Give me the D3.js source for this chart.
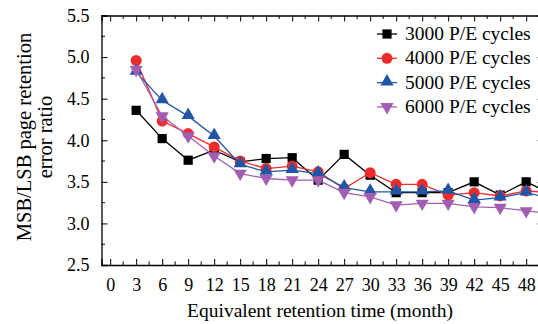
<!DOCTYPE html>
<html>
<head>
<meta charset="utf-8">
<script src="https://cdn.jsdelivr.net/npm/d3@7"></script>
<style>
  body { margin: 0; background: #fff; }
  svg { display: block; font-family: "Liberation Serif", "Times New Roman", serif; }
</style>
</head>
<body>
<svg id="chart" width="538" height="324"></svg>
<script>
// months of retention; the last point sits just past the visible edge
var months = [3, 6, 9, 12, 15, 18, 21, 24, 27, 30, 33, 36, 39, 42, 45, 48, 51];

var pe3000 = [4.36, 4.02, 3.76, 3.88, 3.74, 3.78, 3.79, 3.52, 3.83, 3.58, 3.37, 3.37, 3.37, 3.50, 3.34, 3.50, 3.35];
var pe4000 = [4.96, 4.23, 4.08, 3.92, 3.75, 3.66, 3.69, 3.62, 3.42, 3.61, 3.47, 3.47, 3.34, 3.37, 3.33, 3.39, 3.37];
var pe5000 = [4.82, 4.48, 4.29, 4.05, 3.71, 3.62, 3.64, 3.60, 3.43, 3.38, 3.38, 3.38, 3.39, 3.28, 3.31, 3.37, 3.30];
var pe6000 = [4.85, 4.29, 4.05, 3.81, 3.60, 3.54, 3.52, 3.52, 3.37, 3.32, 3.22, 3.24, 3.24, 3.20, 3.19, 3.15, 3.12];

var seriesNames = ["3000 P/E cycles", "4000 P/E cycles", "5000 P/E cycles", "6000 P/E cycles"];
var seriesColors = ["#000000", "#ee2b2b", "#2156a6", "#a25fb1"];
var seriesShapes = ["square", "circle", "triangle", "down"];

var xTicks = d3.range(0, 49, 3);
var yTicks = [2.5, 3.0, 3.5, 4.0, 4.5, 5.0, 5.5];

var svg = d3.select("#chart");

var mLeft = 101.5, mTop = 15.5, mBottom = 265, mRight = 543.5;

var x = d3.scaleLinear().domain([-1, 50]).range([mLeft, mRight]);
var y = d3.scaleLinear().domain([2.5, 5.5]).range([mBottom, mTop]);

// minor ticks
var xMinor = d3.range(1.5, 50, 3);
var yMinor = d3.range(2.75, 5.5, 0.5);

// bottom axis with inward ticks
var bottomAxis = svg.append("g").attr("transform", "translate(0," + mBottom + ")");
bottomAxis.call(d3.axisBottom(x).tickValues(xTicks).tickSize(-6).tickPadding(13).tickFormat(d3.format("d")));
bottomAxis.append("g").selectAll("line").data(xMinor).enter().append("line")
  .attr("x1", function(d){ return x(d); }).attr("x2", function(d){ return x(d); })
  .attr("y1", 0).attr("y2", -3.5).attr("stroke", "#000");

var topAxis = svg.append("g").attr("transform", "translate(0," + mTop + ")");
topAxis.call(d3.axisTop(x).tickValues(xTicks).tickSize(-6).tickFormat(""));
topAxis.append("g").selectAll("line").data(xMinor).enter().append("line")
  .attr("x1", function(d){ return x(d); }).attr("x2", function(d){ return x(d); })
  .attr("y1", 0).attr("y2", 3.5).attr("stroke", "#000");

var leftAxis = svg.append("g").attr("transform", "translate(" + mLeft + ",0)");
leftAxis.call(d3.axisLeft(y).tickValues(yTicks).tickSize(-6).tickPadding(12).tickFormat(d3.format(".1f")));
leftAxis.append("g").selectAll("line").data(yMinor).enter().append("line")
  .attr("y1", function(d){ return y(d); }).attr("y2", function(d){ return y(d); })
  .attr("x1", 0).attr("x2", 3.5).attr("stroke", "#000");

var rightAxis = svg.append("g").attr("transform", "translate(" + mRight + ",0)");
rightAxis.call(d3.axisRight(y).tickValues(yTicks).tickSize(-6).tickFormat(""));

svg.selectAll(".domain").attr("stroke", "#000").attr("stroke-width", 1.3);
svg.selectAll(".tick line").attr("stroke", "#000");
svg.selectAll(".tick text").attr("font-size", 18).attr("fill", "#000")
  .attr("font-family", "Liberation Serif, serif");

// axis titles
svg.append("text").attr("x", 320).attr("y", 317).attr("text-anchor", "middle")
  .attr("font-size", 19.5).text("Equivalent retention time (month)");

var yTitle = svg.append("text").attr("transform", "translate(0,137) rotate(-90)")
  .attr("text-anchor", "middle").attr("font-size", 20.5);
yTitle.append("tspan").attr("x", 0).attr("y", 31).text("MSB/LSB page retention");
yTitle.append("tspan").attr("x", 0).attr("y", 52).text("error ratio");

// markers
var sym = {
  square: d3.symbol().type(d3.symbolSquare).size(85),
  circle: d3.symbol().type(d3.symbolCircle).size(95),
  triangle: d3.symbol().type(d3.symbolTriangle).size(75),
  down: d3.symbol().type(d3.symbolTriangle).size(75)
};
function drawMarker(g, shape, color, px, py) {
  var p = g.append("path").attr("d", sym[shape]()).attr("fill", color);
  if (shape == "down") p.attr("transform", "translate(" + px + "," + py + ") rotate(180)");
  else if (shape == "triangle") p.attr("transform", "translate(" + px + "," + (py - 1) + ")");
  else p.attr("transform", "translate(" + px + "," + py + ")");
}

var allSeries = [pe3000, pe4000, pe5000, pe6000];
var line = d3.line().x(function(d, i){ return x(months[i]); }).y(function(d){ return y(d); });

var plot = svg.append("g");
for (var s = 0; s < allSeries.length; s++) {
  var g = plot.append("g");
  g.append("path").datum(allSeries[s]).attr("d", line)
    .attr("fill", "none").attr("stroke", seriesColors[s]).attr("stroke-width", 1.3);
  for (var i = 0; i < months.length; i++) {
    drawMarker(g, seriesShapes[s], seriesColors[s], x(months[i]), y(allSeries[s][i]));
  }
}

// legend
var legend = svg.append("g");
for (var k = 0; k < seriesNames.length; k++) {
  var ly = 34 + k * 24.3;
  legend.append("line").attr("x1", 377).attr("x2", 397).attr("y1", ly).attr("y2", ly)
    .attr("stroke", seriesColors[k]).attr("stroke-width", 1.3);
  drawMarker(legend, seriesShapes[k], seriesColors[k], 387, ly);
  legend.append("text").attr("x", 405).attr("y", ly + 6).attr("font-size", 19.5)
    .text(seriesNames[k]);
}
</script>
</body>
</html>
